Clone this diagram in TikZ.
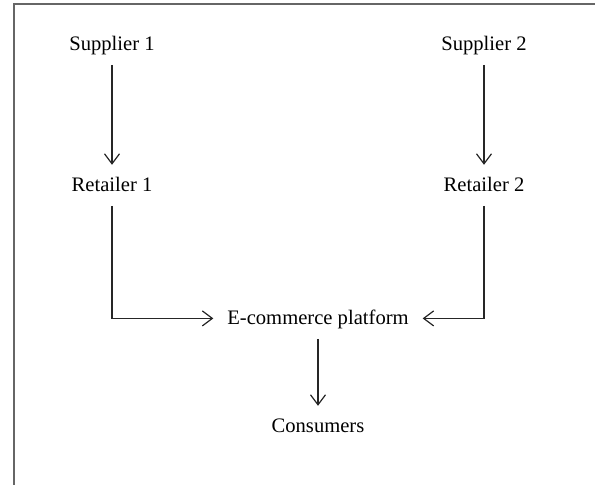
\documentclass[tikz,border=0pt]{standalone}
\usepackage{fontspec}
\setmainfont{Liberation Serif}
\usetikzlibrary{arrows.meta}
\begin{document}
\begin{tikzpicture}[x=0.5pt,y=-0.5pt,
  lbl/.style={anchor=base,inner sep=6.8pt,text height=0.66em,text depth=0pt,
    font=\fontsize{10.3}{12}\selectfont},
  flow/.style={draw=black!85,line width=0.6pt,-{Straight Barb[length=5pt,width=7.5pt]}}]
\useasboundingbox (0,0) rectangle (595,485);
\draw[line width=0.75pt,black!60] (14,485) -- (14,4) -- (595,4);
\node[lbl] (sup1) at (112,51) {Supplier 1};
\node[lbl] (sup2) at (484,51) {Supplier 2};
\node[lbl] (ret1) at (112,192) {Retailer 1};
\node[lbl] (ret2) at (484,192) {Retailer 2};
\node[lbl] (shop) at (318,325) {E-commerce platform};
\node[lbl] (cons) at (318,433) {Consumers};
\draw[flow] (sup1) -- (ret1);
\draw[flow] (sup2) -- (ret2);
\draw[flow] (ret1) |- (shop);
\draw[flow] (ret2) |- (shop);
\draw[flow] (shop) -- (cons);
\end{tikzpicture}
\end{document}
